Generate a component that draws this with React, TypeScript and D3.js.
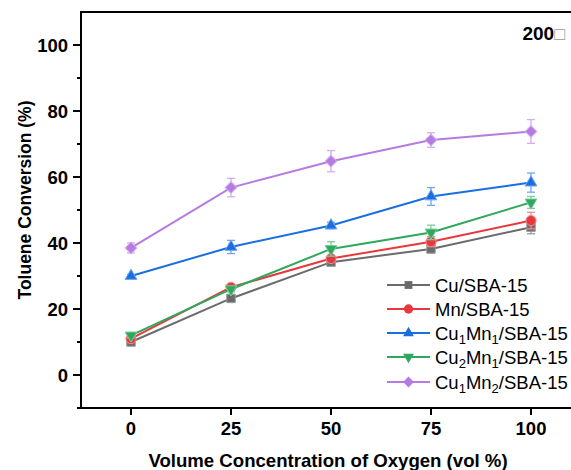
import React from "react";
import * as d3 from "d3";

const xValues = [0, 25, 50, 75, 100];
const seriesNames = ["Cu/SBA-15", "Mn/SBA-15", "Cu1Mn1/SBA-15", "Cu2Mn1/SBA-15", "Cu1Mn2/SBA-15"];
const cuValues = [10, 23.2, 34.2, 38.2, 44.8];
const mnValues = [11, 26.6, 35.3, 40.4, 46.8];
const cu1mn1Values = [30, 38.8, 45.3, 54.1, 58.3];
const cu2mn1Values = [12, 26, 38.2, 43.2, 52.3];
const cu1mn2Values = [38.5, 56.8, 64.8, 71.2, 73.8];
const cuErr = [0.8, 0.8, 1, 1.2, 2];
const mnErr = [0.8, 0.8, 1, 1.5, 2.5];
const cu1mn1Err = [0.5, 2, 1, 2.7, 2.9];
const cu2mn1Err = [0.8, 0.8, 2.2, 2.2, 1.8];
const cu1mn2Err = [1.5, 2.8, 3.2, 2.2, 3.6];
const yTicks = [0, 20, 40, 60, 80, 100];
const yMinorTicks = [-10, 10, 30, 50, 70, 90];
const xTicks = [0, 25, 50, 75, 100];

const colors = ["#6b6b6b", "#e8383d", "#1a6ee0", "#2ea85c", "#b57be0"];
const errColors = ["#9a9a9a", "#f08a8d", "#6fa6ef", "#7ccc9c", "#d2adf0"];
const symbols = [d3.symbolSquare, d3.symbolCircle, d3.symbolTriangle, d3.symbolTriangle, d3.symbolSquare];
const rotations = [0, 0, 0, 180, 45];
const sizes = [72, 80, 60, 60, 68];

const allValues = [cuValues, mnValues, cu1mn1Values, cu2mn1Values, cu1mn2Values];
const allErr = [cuErr, mnErr, cu1mn1Err, cu2mn1Err, cu1mn2Err];

const FONT = "Arial, 'Liberation Sans', Helvetica, sans-serif";

function Label({ name }: { name: string }) {
  const m = name.match(/^Cu(\d)Mn(\d)(\/SBA-15)$/);
  if (!m) return <>{name}</>;
  return (
    <>
      Cu
      <tspan fontSize={13} dy={4}>{m[1]}</tspan>
      <tspan dy={-4}>Mn</tspan>
      <tspan fontSize={13} dy={4}>{m[2]}</tspan>
      <tspan dy={-4}>{m[3]}</tspan>
    </>
  );
}

export default function App() {
  const W = 571, H = 470;
  const left = 81, right = 581, top = 12, bottom = 408;
  const x = d3.scaleLinear().domain([-12.5, 112.5]).range([left, right]);
  const y = d3.scaleLinear().domain([-10, 110]).range([bottom, top]);
  const line = d3.line<number>().x((_, i) => x(xValues[i])).y((d) => y(d));

  const legendX0 = 387, legendX1 = 430, legendText = 435;
  const legendY = [285, 309, 333, 357, 382];

  return (
    <svg width={W} height={H} style={{ position: "absolute", left: 0, top: 0, background: "#fff" }} fontFamily={FONT}>
      <rect width={W} height={H} fill="#fff" />
      <g stroke="#000" strokeWidth={2} fill="none">
        <line x1={left} x2={right} y1={top} y2={top} />
        <line x1={left} x2={right} y1={bottom} y2={bottom} />
        <line x1={left} x2={left} y1={top - 1} y2={bottom + 1} />
        <line x1={right} x2={right} y1={top} y2={bottom} />
        {yTicks.map((t) => (
          <line key={"yt" + t} x1={left - 8} x2={left} y1={y(t)} y2={y(t)} />
        ))}
        {yMinorTicks.map((t) => (
          <line key={"ym" + t} x1={left - 4} x2={left} y1={y(t)} y2={y(t)} />
        ))}
        {xTicks.map((t) => (
          <line key={"xt" + t} x1={x(t)} x2={x(t)} y1={bottom} y2={bottom + 7} />
        ))}
      </g>
      <g fontWeight="bold" fill="#000">
        {yTicks.map((t) => (
          <text key={"yl" + t} x={left - 13} y={y(t)} dy="0.36em" textAnchor="end" fontSize={18.5}>{t}</text>
        ))}
        {xTicks.map((t) => (
          <text key={"xl" + t} x={x(t)} y={435} textAnchor="middle" fontSize={18.5}>{t}</text>
        ))}
        <text x={328} y={467} textAnchor="middle" fontSize={18.6}>Volume Concentration of Oxygen (vol %)</text>
        <text transform={`translate(31,200) rotate(-90)`} textAnchor="middle" fontSize={17.5}>Toluene Conversion (%)</text>
      </g>
      <text x={565} y={40} textAnchor="end" fontWeight="bold" fontSize={19}>
        200<tspan fill="#999" fontWeight="normal" fontSize={18}>□</tspan>
      </text>
      {allValues.map((vals, si) => (
        <g key={"s" + si}>
          <path d={line(vals) || ""} fill="none" stroke={colors[si]} strokeWidth={2} />
          {vals.map((v, i) => {
            const e = allErr[si][i];
            const cx = x(xValues[i]);
            return (
              <g key={"e" + i} stroke={errColors[si]} strokeWidth={1.3}>
                <line x1={cx} x2={cx} y1={y(v - e)} y2={y(v + e)} />
                <line x1={cx - 4} x2={cx + 4} y1={y(v - e)} y2={y(v - e)} />
                <line x1={cx - 4} x2={cx + 4} y1={y(v + e)} y2={y(v + e)} />
              </g>
            );
          })}
          {vals.map((v, i) => (
            <path
              key={"m" + i}
              d={d3.symbol().type(symbols[si]).size(sizes[si])() || ""}
              transform={`translate(${x(xValues[i])},${y(v)}) rotate(${rotations[si]})`}
              fill={colors[si]}
              stroke={errColors[si]}
              strokeWidth={1}
            />
          ))}
        </g>
      ))}
      {seriesNames.map((name, si) => (
        <g key={"l" + si}>
          <line x1={legendX0} x2={legendX1} y1={legendY[si]} y2={legendY[si]} stroke={colors[si]} strokeWidth={2} />
          <path
            d={d3.symbol().type(symbols[si]).size(sizes[si] * 0.85)() || ""}
            transform={`translate(${(legendX0 + legendX1) / 2},${legendY[si]}) rotate(${rotations[si]})`}
            fill={colors[si]}
          />
          <text x={legendText} y={legendY[si]} dy="0.36em" fontSize={18.5} fill="#000">
            <Label name={name} />
          </text>
        </g>
      ))}
    </svg>
  );
}
